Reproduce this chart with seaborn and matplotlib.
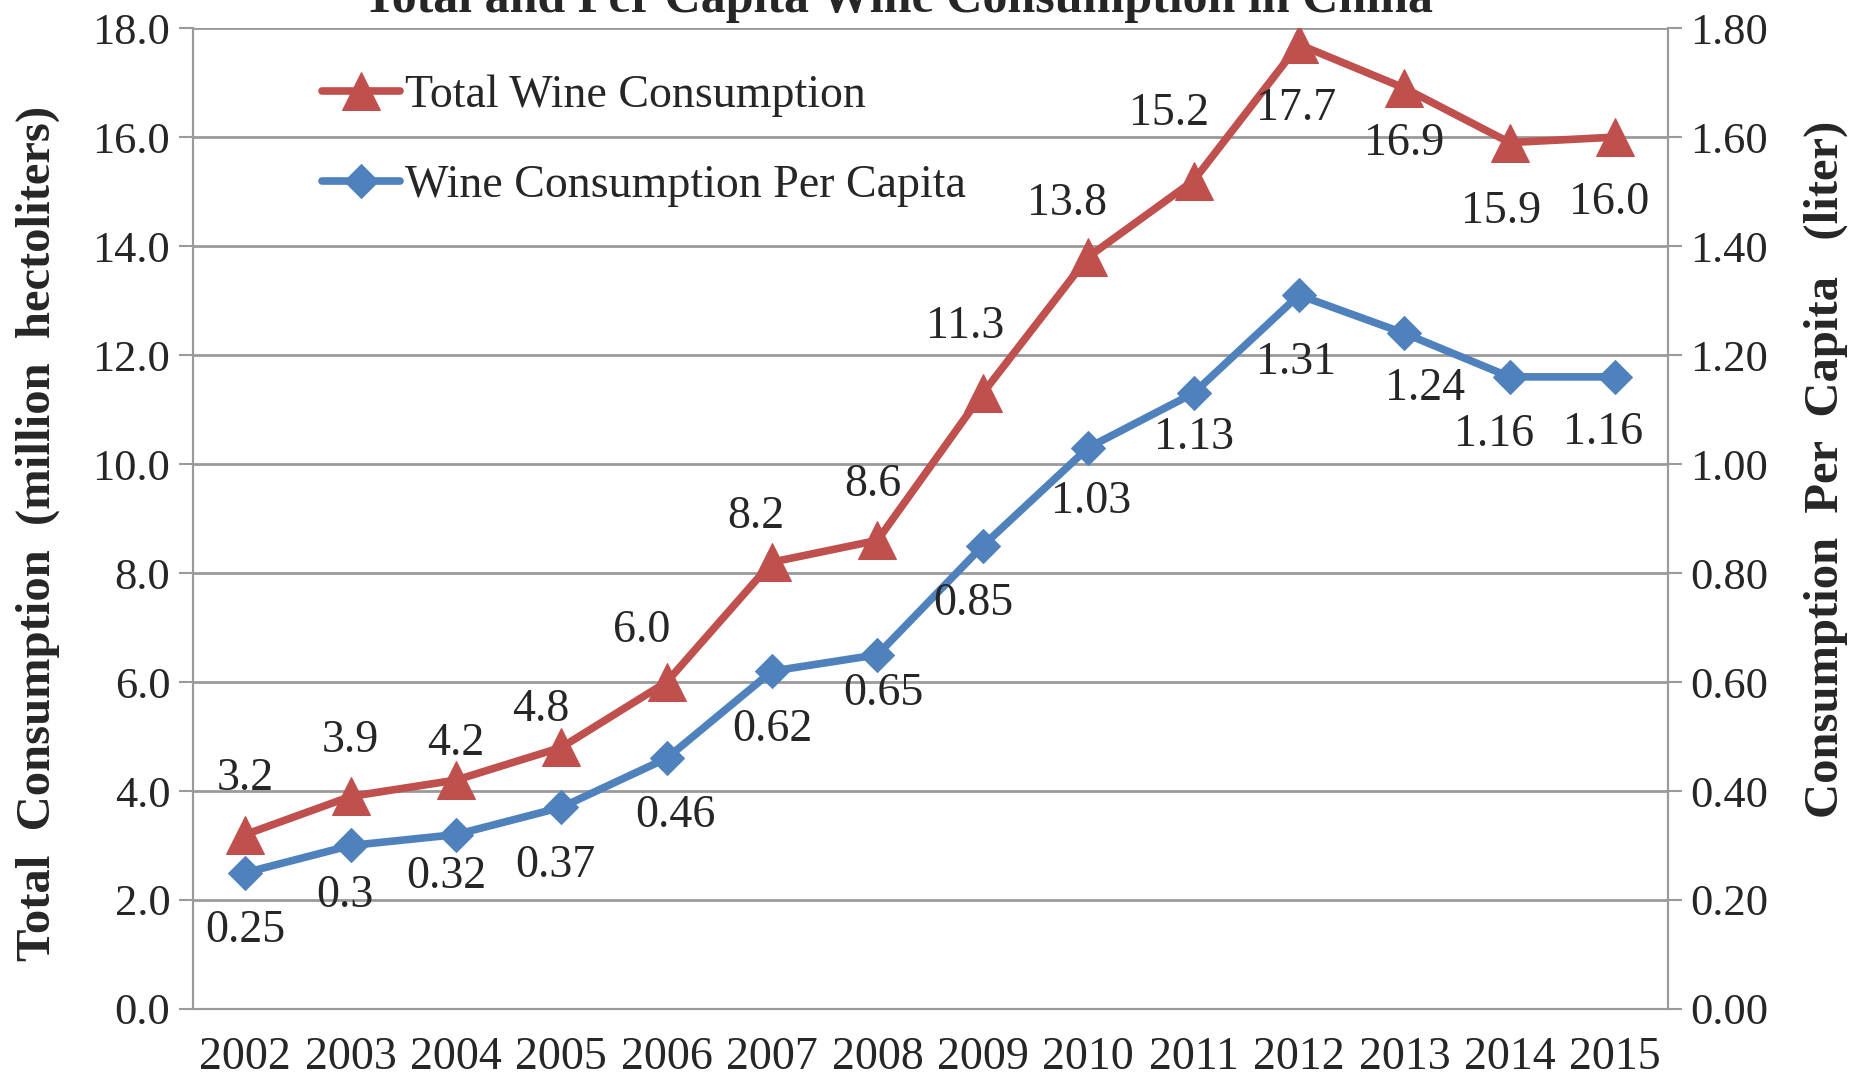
import numpy as np
import pandas as pd
import matplotlib
matplotlib.use("Agg")
import matplotlib.pyplot as plt
from matplotlib.ticker import FixedLocator, FormatStrFormatter
import seaborn as sns

sns.set_style("white")
plt.rcParams["font.family"] = ["Liberation Serif", "DejaVu Serif"]

# data
years = ["2002", "2003", "2004", "2005", "2006", "2007", "2008",
         "2009", "2010", "2011", "2012", "2013", "2014", "2015"]
total = [3.2, 3.9, 4.2, 4.8, 6.0, 8.2, 8.6, 11.3, 13.8, 15.2, 17.7, 16.9, 15.9, 16.0]
per_capita = [0.25, 0.3, 0.32, 0.37, 0.46, 0.62, 0.65, 0.85, 1.03, 1.13, 1.31, 1.24, 1.16, 1.16]
total_labels = ["3.2", "3.9", "4.2", "4.8", "6.0", "8.2", "8.6", "11.3", "13.8", "15.2",
                "17.7", "16.9", "15.9", "16.0"]
pc_labels = ["0.25", "0.3", "0.32", "0.37", "0.46", "0.62", "0.65", "0.85", "1.03", "1.13",
             "1.31", "1.24", "1.16", "1.16"]

# label offsets (points)
total_off = [(0, 40), (0, 40), (0, 26), (-15, 27), (-18, 37), (-12, 33), (-3, 40), (-13, 48),
             (-15, 38), (-18, 48), (-2, -46), (0, -40), (-6, -50), (-4, -47)]
pc_off = [(0, -42), (-4, -36), (-7, -30), (-4, -42), (6, -41), (0, -42), (4, -28), (-7, -42),
          (2, -39), (0, -32), (-2, -49), (15, -40), (-11, -42), (-9, -40)]

df = pd.DataFrame({"year": years, "total": total, "per_capita": per_capita})

red = "#C0504D"
blue = "#4F81BD"
grid_c = "#9A9A9A"

fig = plt.figure(figsize=(18.51, 10.82), dpi=100)
ax = fig.add_axes([0.104, 0.0675, 0.797, 0.9065])
ax2 = ax.twinx()

sns.lineplot(data=df, x="year", y="total", ax=ax, color=red, lw=5.5, marker="^",
             markersize=27, markeredgecolor=red, label="Total Wine Consumption", legend=False)
sns.lineplot(data=df, x="year", y="per_capita", ax=ax2, color=blue, lw=5.5, marker="D",
             markersize=17, markeredgecolor=blue, label="Wine Consumption Per Capita", legend=False)

ax.set_ylim(0, 18)
ax2.set_ylim(0, 1.8)
ax.set_xlim(-0.5, len(years) - 0.5)
ax.set_yticks(np.arange(0, 18.1, 2))
ax2.set_yticks(np.arange(0, 1.81, 0.2))
ax.yaxis.set_major_formatter(FormatStrFormatter("%.1f"))
ax2.yaxis.set_major_formatter(FormatStrFormatter("%.2f"))

ax.set_xticks(range(len(years)))
ax.set_xticklabels(years)
ax.xaxis.set_minor_locator(FixedLocator(np.arange(-0.5, len(years), 1.0)))
ax.tick_params(axis="x", which="major", length=0, labelsize=33, pad=20)
ax.tick_params(axis="x", which="minor", length=12, width=1.5, color=grid_c, direction="out")
ax.tick_params(axis="y", length=10, width=1.5, color=grid_c, labelsize=32, pad=6, direction="out")
ax2.tick_params(axis="y", length=10, width=1.5, color=grid_c, labelsize=32, pad=6, direction="out")

ax.grid(axis="y", color=grid_c, lw=2)
ax.set_axisbelow(True)
for a in (ax, ax2):
    a.spines["top"].set_visible(False)
    for s in ("left", "right", "bottom"):
        a.spines[s].set_color(grid_c)
        a.spines[s].set_linewidth(1.5)
ax.set_zorder(ax2.get_zorder() - 1)
ax2.patch.set_visible(False)
ax.patch.set_visible(True)

ax.set_xlabel("")
ax.set_ylabel("Total  Consumption  (million  hectoliters)", fontsize=35, fontweight="bold")
ax2.set_ylabel("Consumption  Per  Capita   (liter)", fontsize=35, fontweight="bold")
ax.yaxis.set_label_coords(-0.09, 0.485)
ax2.yaxis.set_label_coords(1.092, 0.55)

for i, (v, t) in enumerate(zip(total, total_labels)):
    ax.annotate(t, (i, v), xytext=total_off[i], textcoords="offset points",
                ha="center", va="center", fontsize=33)
for i, (v, t) in enumerate(zip(per_capita, pc_labels)):
    ax2.annotate(t, (i, v), xytext=pc_off[i], textcoords="offset points",
                 ha="center", va="center", fontsize=33)

h1, l1 = ax.get_legend_handles_labels()
h2, l2 = ax2.get_legend_handles_labels()
ax2.legend(h1 + h2, l1 + l2, loc="upper left", bbox_to_anchor=(0.06, 0.995), frameon=False,
           fontsize=33, handlelength=1.7, handletextpad=0.1, labelspacing=1.05)

fig.text(0.485, 1.0, "Total and Per Capita Wine Consumption in China", ha="center", va="center",
         fontsize=36, fontweight="bold")

fig.savefig("out.png", dpi=100)
